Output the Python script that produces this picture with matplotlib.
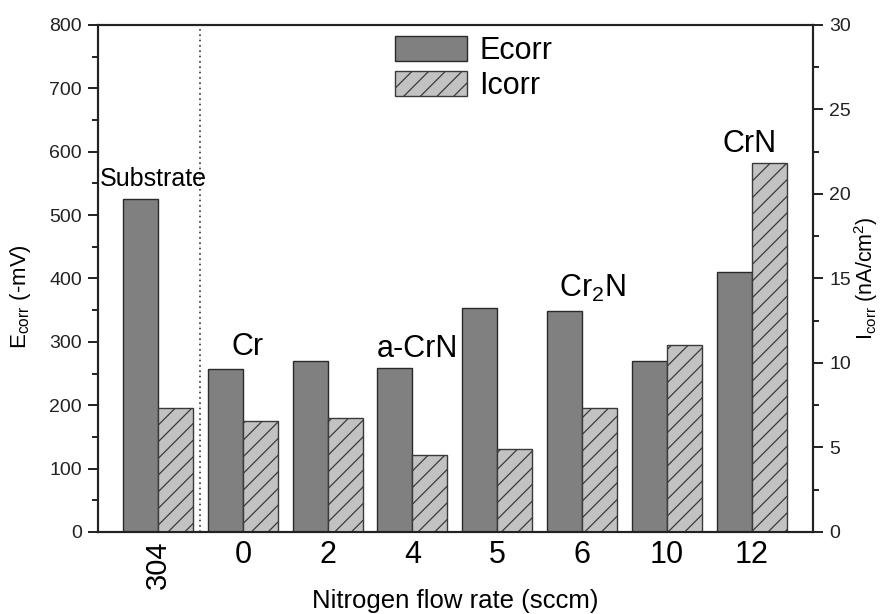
import matplotlib
matplotlib.use("Agg")
import matplotlib.pyplot as plt
import numpy as np
from matplotlib.ticker import MultipleLocator
from matplotlib.patches import Patch

plt.rcParams['font.family'] = ['Liberation Sans', 'DejaVu Sans']
plt.rcParams['mathtext.fontset'] = 'custom'
plt.rcParams['mathtext.rm'] = 'Liberation Sans'
plt.rcParams['mathtext.it'] = 'Liberation Sans:italic'
plt.rcParams['hatch.linewidth'] = 0.9

# Data
categories = ["304", "0", "2", "4", "5", "6", "10", "12"]
ecorr = [526, 257, 269, 258, 353, 348, 269, 411]          # -mV
icorr = [7.35, 6.57, 6.75, 4.55, 4.9, 7.35, 11.07, 21.85]  # nA/cm^2
phase_labels = ["Substrate", "Cr", "a-CrN", "Cr$_2$N", "CrN"]

fig = plt.figure(figsize=(8.88, 6.14), dpi=100)
ax = fig.add_axes([0.1104, 0.1336, 0.8052, 0.8257])
ax2 = ax.twinx()

x = np.arange(len(categories))
w = 0.413
ax.bar(x - w / 2, ecorr, width=w, color='#808080', edgecolor='#2a2a2a',
       linewidth=1.0, zorder=2)
ax2.bar(x + w / 2, icorr, width=w, color='#c2c2c2', edgecolor='#3a3a3a',
        linewidth=1.0, hatch='//', zorder=2)

ax.set_xlim(-0.708, 7.724)
ax.set_ylim(0, 800)
ax2.set_ylim(0, 30)

# separator between substrate and coatings
ax.axvline(0.5, color='#333333', linestyle=(0, (1, 2.2)), linewidth=1.2, zorder=1)

ax.yaxis.set_major_locator(MultipleLocator(100))
ax.yaxis.set_minor_locator(MultipleLocator(50))
ax2.yaxis.set_major_locator(MultipleLocator(5))
ax2.yaxis.set_minor_locator(MultipleLocator(2.5))

for a in (ax, ax2):
    for s in a.spines.values():
        s.set_linewidth(1.5)
        s.set_color('#222222')
    a.tick_params(axis='y', which='major', direction='out', length=7.2, width=1.4,
                  labelsize=14, colors='#222222', pad=4.5)
    a.tick_params(axis='y', which='minor', direction='out', length=4.2, width=1.4,
                  colors='#222222')

ax.set_xticks(x)
ax.set_xticklabels(categories, fontsize=22)
ax.tick_params(axis='x', length=0, pad=6)
lbl0 = ax.get_xticklabels()[0]
lbl0.set_rotation(90)
lbl0.set_fontsize(21)

ax.set_xlabel("Nitrogen flow rate (sccm)", fontsize=18.5, labelpad=0)
ax.set_ylabel(r"E$_{\mathrm{corr}}$ (-mV)", fontsize=16)
ax.yaxis.set_label_coords(-0.091, 0.465)
ax2.set_ylabel(r"I$_{\mathrm{corr}}$ (nA/cm$^{2}$)", fontsize=15.5)
ax2.yaxis.set_label_coords(1.054, 0.5)

# phase annotations
ax.text(-0.06, 546, phase_labels[0], fontsize=18, ha='center', va='baseline')
ax.text(1.06, 279, phase_labels[1], fontsize=22, ha='center', va='baseline')
ax.text(3.06, 276, phase_labels[2], fontsize=22, ha='center', va='baseline')
ax.text(5.12, 371, phase_labels[3], fontsize=22, ha='center', va='baseline')
ax.text(6.98, 600, phase_labels[4], fontsize=22, ha='center', va='baseline')

handles = [Patch(facecolor='#808080', edgecolor='#2a2a2a', linewidth=1.0),
           Patch(facecolor='#c2c2c2', edgecolor='#3a3a3a', linewidth=1.0, hatch='//')]
ax.legend(handles, ["Ecorr", "Icorr"], loc='upper left',
          bbox_to_anchor=(395 / 888, 1 - 36 / 614), bbox_transform=fig.transFigure,
          frameon=False, fontsize=22, handlelength=2.36, handleheight=0.88,
          handletextpad=0.4, labelspacing=0.15, borderpad=0, borderaxespad=0)

fig.savefig("out.png", dpi=100)
